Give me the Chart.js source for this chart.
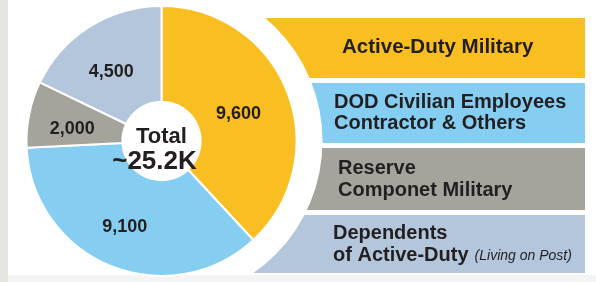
<!DOCTYPE html>
<html><head><meta charset="utf-8">
<script src="https://cdn.jsdelivr.net/npm/chart.js@4/dist/chart.umd.min.js"></script>
<style>html,body{margin:0;padding:0;background:#fff;}canvas{display:block}</style>
</head><body>
<canvas id="c" width="596" height="282"></canvas>
<script>
// ---- data ----
const categories = ["Active-Duty Military", "DOD Civilian Employees Contractor & Others", "Reserve Componet Military", "Dependents of Active-Duty (Living on Post)"];
const values = [9600, 9100, 2000, 4500];
const valueLabels = ["9,600", "9,100", "2,000", "4,500"];
const colors = ["#F8BE22", "#85CEF1", "#A4A49D", "#B3C6DC"];
const legendLines = [["Active-Duty Military"], ["DOD Civilian Employees", "Contractor & Others"], ["Reserve", "Componet Military"], ["Dependents", "of Active-Duty"]];
const legendNote = "(Living on Post)";
const centerLines = ["Total", "~25.2K"];

const TEXT = "#231f20";
const FONT = "'Liberation Sans', Arial, sans-serif";

const backgroundPlugin = {
  id: "bg",
  beforeDraw(chart) {
    const ctx = chart.ctx;
    ctx.save();
    ctx.fillStyle = "#ffffff";
    ctx.fillRect(0, 0, chart.width, chart.height);
    ctx.fillStyle = "#e5e6e2";
    ctx.fillRect(0, 0, 8, chart.height);
    ctx.fillStyle = "#f3f4f3";
    ctx.fillRect(8, 275, chart.width - 8, chart.height - 275);
    ctx.restore();
  }
};

const bannerPlugin = {
  id: "banners",
  beforeDatasetsDraw(chart) {
    const ctx = chart.ctx;
    const arc = chart.getDatasetMeta(0).data[0];
    const cx = arc.x, cy = arc.y, rCut = arc.outerRadius + 26;
    const rows = [{ y: 18, h: 60 }, { y: 83, h: 60 }, { y: 148, h: 62 }, { y: 215, h: 58 }];
    ctx.save();
    ctx.beginPath();
    ctx.rect(0, 0, chart.width, chart.height);
    ctx.arc(cx, cy, rCut, 0, Math.PI * 2, true);
    ctx.clip("evenodd");
    rows.forEach((r, i) => {
      ctx.fillStyle = colors[i];
      ctx.fillRect(200, r.y, 585 - 200, r.h);
    });
    ctx.restore();

    ctx.save();
    ctx.fillStyle = TEXT;
    ctx.textBaseline = "middle";
    ctx.textAlign = "left";
    ctx.font = "bold 20.5px " + FONT;
    ctx.fillText(legendLines[0][0], 342, 47);
    ctx.font = "bold 20px " + FONT;
    ctx.fillText(legendLines[1][0], 334, 102);
    ctx.fillText(legendLines[1][1], 334, 123);
    ctx.fillText(legendLines[2][0], 338, 168);
    ctx.fillText(legendLines[2][1], 338, 190);
    ctx.fillText(legendLines[3][0], 333, 233);
    ctx.fillText(legendLines[3][1], 333, 255);
    const w = ctx.measureText(legendLines[3][1]).width;
    ctx.font = "italic 14px " + FONT;
    ctx.fillText(legendNote, 333 + w + 6, 256);
    ctx.restore();
  }
};

const labelPlugin = {
  id: "labels",
  afterDatasetsDraw(chart) {
    const ctx = chart.ctx;
    const meta = chart.getDatasetMeta(0);
    ctx.save();
    ctx.fillStyle = TEXT;
    ctx.textAlign = "center";
    ctx.textBaseline = "middle";
    ctx.font = "bold 18px " + FONT;
    meta.data.forEach((a, i) => {
      const p = a.getCenterPoint();
      ctx.fillText(valueLabels[i], p.x - 4, p.y + 5);
    });
    const cx = meta.data[0].x, cy = meta.data[0].y;
    ctx.font = "bold 22px " + FONT;
    ctx.fillText(centerLines[0], cx, cy - 4);
    ctx.font = "bold 26px " + FONT;
    ctx.fillText(centerLines[1], cx - 7, cy + 21);
    ctx.restore();
  }
};

new Chart(document.getElementById("c"), {
  type: "doughnut",
  data: {
    labels: categories,
    datasets: [{
      data: values,
      backgroundColor: colors,
      borderColor: "#ffffff",
      borderWidth: 2,
      hoverOffset: 0
    }]
  },
  options: {
    responsive: false,
    animation: false,
    devicePixelRatio: 1,
    cutout: "29%",
    layout: { padding: { left: 25, top: 5, right: 298, bottom: 5 } },
    plugins: { legend: { display: false }, tooltip: { enabled: false } },
    events: []
  },
  plugins: [backgroundPlugin, bannerPlugin, labelPlugin]
});
</script>
</body></html>
